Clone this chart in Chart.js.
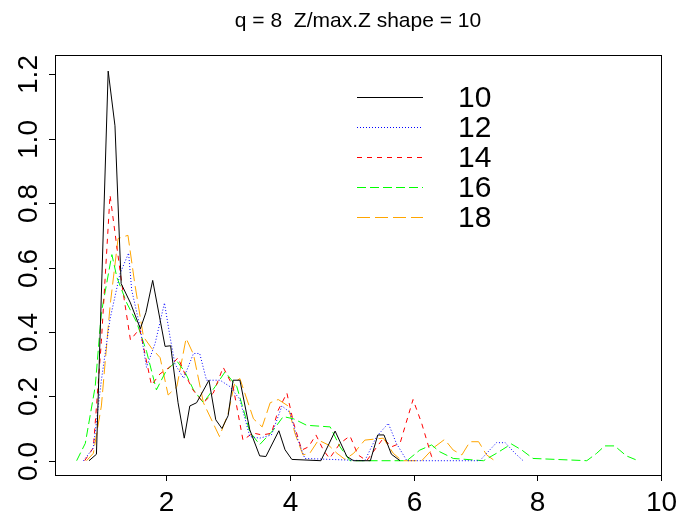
<!DOCTYPE html>
<html>
<head>
<meta charset="utf-8">
<script src="https://cdn.jsdelivr.net/npm/chart.js@4.4.1/dist/chart.umd.min.js"></script>
<style>
  html, body { margin: 0; padding: 0; background: #fff; }
  #wrap { width: 677px; height: 514px; }
</style>
</head>
<body>
<div id="wrap"><canvas id="c" width="677" height="514"></canvas></div>
<script>
// values
const seriesNames = ['10', '12', '14', '16', '18'];
const xTicks = [2, 4, 6, 8, 10];
const yTicks = [0, 0.2, 0.4, 0.6, 0.8, 1.0, 1.2];

const x10 = [0.75,0.87,0.96,1.06,1.17,1.27,1.42,1.58,1.67,1.78,1.98,2.07,2.19,2.29,2.38,2.49,2.69,2.80,2.90,3.00,3.08,3.19,3.35,3.51,3.61,3.82,3.92,4.03,4.50,4.73,4.92,5.03,5.30,5.42,5.52,5.64,5.78];
const y10 = [0,0.02,0.58,1.21,1.04,0.55,0.49,0.41,0.46,0.56,0.355,0.357,0.18,0.07,0.17,0.18,0.25,0.127,0.10,0.14,0.25,0.25,0.096,0.015,0.013,0.093,0.034,0.004,0,0.092,0.013,0,0,0.08,0.08,0.02,0];

const x12 = [0.66,0.82,0.95,1.09,1.25,1.39,1.44,1.57,1.68,1.82,1.97,2.06,2.14,2.28,2.44,2.54,2.65,2.87,3.03,3.19,3.35,3.51,3.70,3.87,4.00,4.11,4.24,5.21,5.40,5.59,5.72,5.89,7.07,7.34,7.48,7.64,7.77];
const y12 = [0,0.04,0.25,0.44,0.58,0.645,0.53,0.42,0.29,0.365,0.49,0.385,0.30,0.256,0.333,0.333,0.25,0.25,0.23,0.19,0.075,0.07,0.08,0.17,0.15,0.075,0.007,0,0.075,0.116,0.054,0,0,0.056,0.056,0.023,0];

const x14 = [0.68,0.82,0.95,1.09,1.21,1.28,1.42,1.57,1.76,1.90,2.05,2.19,2.30,2.43,2.60,2.76,2.92,3.08,3.24,3.40,3.55,3.70,3.81,3.95,4.06,4.19,4.30,4.42,4.54,4.64,4.81,4.97,5.10,5.24,5.51,5.64,5.78,5.99,6.13,6.29,6.35];
const y14 = [0,0.04,0.37,0.825,0.65,0.55,0.375,0.41,0.235,0.27,0.29,0.32,0.27,0.22,0.18,0.21,0.29,0.23,0.064,0.086,0.08,0.085,0.157,0.21,0.116,0.033,0.043,0.08,0.033,0.007,0.054,0.077,0.018,0,0.07,0.043,0.054,0.19,0.116,0.013,0];

const x16 = [0.55,0.69,0.85,0.95,1.12,1.20,1.36,1.52,1.68,1.84,2.00,2.17,2.30,2.44,2.60,2.79,2.95,3.14,3.35,3.51,3.73,3.89,4.06,4.27,4.65,4.81,4.97,5.89,6.10,6.29,6.42,6.64,7.13,7.34,7.58,7.75,7.93,8.80,8.96,9.09,9.25,9.44,9.63];
const y16 = [0,0.054,0.23,0.46,0.64,0.57,0.49,0.43,0.34,0.22,0.28,0.31,0.276,0.22,0.18,0.23,0.276,0.23,0.09,0.05,0.095,0.137,0.13,0.11,0.105,0.043,0,0,0.033,0.049,0.028,0.007,0,0.023,0.052,0.033,0.007,0,0.023,0.046,0.046,0.015,0];

const x18 = [0.71,0.82,0.95,1.09,1.22,1.38,1.49,1.63,1.76,1.90,2.03,2.17,2.32,2.44,2.60,2.86,3.00,3.11,3.19,3.41,3.55,3.68,3.81,3.97,4.08,4.21,4.32,4.46,4.62,4.76,4.89,5.03,5.21,5.51,5.67,5.81,6.13,6.34,6.50,6.64,6.78,6.91,7.05,7.18,7.31];
const y18 = [0,0.023,0.17,0.48,0.69,0.70,0.55,0.385,0.35,0.32,0.204,0.23,0.38,0.33,0.18,0.075,0.147,0.245,0.255,0.13,0.105,0.18,0.19,0.17,0.085,0.018,0.023,0.064,0.049,0.023,0.004,0.023,0.064,0.07,0.023,0,0,0.043,0.066,0.033,0.018,0.059,0.059,0.018,0];

const colors = ['#000000', '#0000ff', '#ff0000', '#00ff00', '#ffa500'];
const dashes = [[], [1, 2], [5, 5], [9, 4], [13, 5]];
const xsAll = [x10, x12, x14, x16, x18];
const ysAll = [y10, y12, y14, y16, y18];

const pts = (xs, ys) => xs.map((x, i) => ({ x: x, y: ys[i] }));

const FONT = '"Liberation Sans", Arial, sans-serif';

// R style box, axes, title and legend
const rFrame = {
    id: 'rFrame',
    afterDraw(chart) {
        const ctx = chart.ctx;
        const a = chart.chartArea;
        const xs = chart.scales.x, ys = chart.scales.y;
        ctx.save();
        ctx.strokeStyle = '#000';
        ctx.lineWidth = 1;
        ctx.setLineDash([]);
        ctx.strokeRect(a.left + 0.5, a.top + 0.5, a.right - a.left, a.bottom - a.top);

        ctx.fillStyle = '#000';
        ctx.font = '28px ' + FONT;
        ctx.textAlign = 'center';
        ctx.textBaseline = 'alphabetic';
        xTicks.forEach(t => {
            const px = Math.round(xs.getPixelForValue(t)) + 0.5;
            ctx.beginPath();
            ctx.moveTo(px, a.bottom);
            ctx.lineTo(px, a.bottom + 6);
            ctx.stroke();
            ctx.fillText(String(t), px, 511);
        });
        yTicks.forEach(t => {
            const py = Math.round(ys.getPixelForValue(t)) + 0.5;
            ctx.beginPath();
            ctx.moveTo(a.left, py);
            ctx.lineTo(a.left - 6, py);
            ctx.stroke();
            ctx.save();
            ctx.translate(37, py);
            ctx.rotate(-Math.PI / 2);
            ctx.fillText(t.toFixed(1), 0, 0);
            ctx.restore();
        });

        ctx.font = '21px ' + FONT;
        ctx.fillText('q = 8  Z/max.Z shape = 10', (a.left + a.right) / 2, 27);

        ctx.font = '30px ' + FONT;
        ctx.textAlign = 'left';
        ctx.textBaseline = 'middle';
        seriesNames.forEach((n, i) => {
            const ly = 97.5 + i * 30;
            ctx.strokeStyle = colors[i];
            ctx.setLineDash(dashes[i]);
            ctx.beginPath();
            ctx.moveTo(357, ly);
            ctx.lineTo(423, ly);
            ctx.stroke();
            ctx.fillText(n, 458, ly + 1);
        });
        ctx.restore();
    }
};

new Chart(document.getElementById('c').getContext('2d'), {
    type: 'scatter',
    data: {
        datasets: seriesNames.map((n, i) => ({
            label: n,
            data: pts(xsAll[i], ysAll[i]),
            showLine: true,
            borderColor: colors[i],
            borderDash: dashes[i],
            borderWidth: 1,
            pointRadius: 0,
            tension: 0,
            fill: false
        }))
    },
    options: {
        responsive: false,
        animation: false,
        devicePixelRatio: 1,
        layout: { padding: { left: 55, top: 55, right: 16, bottom: 39 } },
        plugins: { legend: { display: false }, title: { display: false }, tooltip: { enabled: false } },
        scales: {
            x: { type: 'linear', display: false, min: 0.2, max: 10.0 },
            y: { type: 'linear', display: false, min: -0.0444, max: 1.26 }
        }
    },
    plugins: [rFrame]
});
</script>
</body>
</html>
